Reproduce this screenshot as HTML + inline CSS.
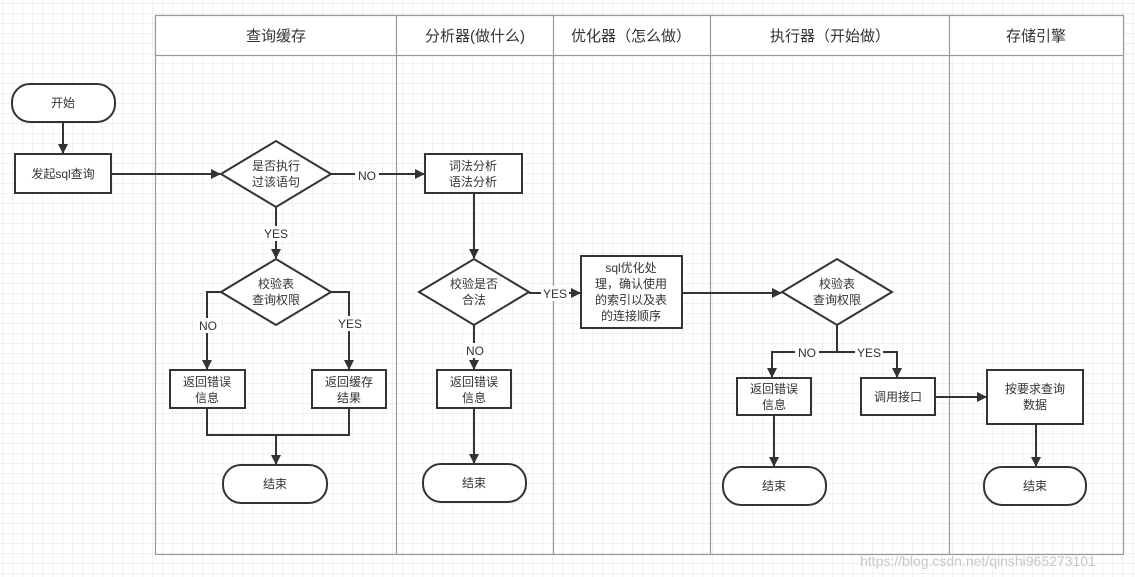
<!DOCTYPE html>
<html><head><meta charset="utf-8"><style>
html,body{margin:0;padding:0;background:#fff}
svg{display:block}
text{font-family:"Liberation Sans","Noto Sans CJK SC",sans-serif;fill:#333}
</style></head><body>
<svg width="1135" height="577" viewBox="0 0 1135 577" xmlns="http://www.w3.org/2000/svg">
<defs>
<pattern id="g" width="10" height="10" patternUnits="userSpaceOnUse" x="3" y="4">
<path d="M10 0V10M0 10H10" stroke="#e3e3e3" stroke-width="1" fill="none"/>
</pattern>
<marker id="a" markerWidth="10" markerHeight="10" refX="9" refY="5" orient="auto" markerUnits="userSpaceOnUse">
<path d="M0 0L10 5L0 10Z" fill="#333"/>
</marker>
</defs>
<rect width="1135" height="577" fill="url(#g)"/>
<!-- pool -->
<g stroke="#999" stroke-width="1.2" fill="none">
<rect x="155.5" y="15.5" width="968" height="539" fill="none"/>
<rect x="155.5" y="15.5" width="968" height="40" fill="#fff"/>
<line x1="396.5" y1="15" x2="396.5" y2="554"/>
<line x1="553.5" y1="15" x2="553.5" y2="554"/>
<line x1="710.5" y1="15" x2="710.5" y2="554"/>
<line x1="949.5" y1="15" x2="949.5" y2="554"/>
</g>
<g font-size="15" text-anchor="middle">
<text x="276" y="41">查询缓存</text>
<text x="475" y="41">分析器(做什么)</text>
<text x="631" y="41">优化器（怎么做）</text>
<text x="830" y="41">执行器（开始做）</text>
<text x="1036" y="41">存储引擎</text>
</g>
<!-- shapes -->
<g stroke="#333" stroke-width="2" fill="#fff">
<rect x="12" y="84" width="103" height="38" rx="18"/>
<rect x="15" y="154" width="96" height="39"/>
<polygon points="221,174 276,141 331,174 276,207"/>
<rect x="425" y="154" width="97" height="39"/>
<polygon points="419,292 474,259 529,292 474,325"/>
<rect x="581" y="256" width="101" height="72"/>
<polygon points="782,292 837,259 892,292 837,325"/>
<polygon points="221,292 276,259 331,292 276,325"/>
<rect x="170" y="370" width="75" height="38"/>
<rect x="312" y="370" width="74" height="38"/>
<rect x="223" y="465" width="104" height="38" rx="18"/>
<rect x="437" y="370" width="74" height="38"/>
<rect x="423" y="464" width="103" height="38" rx="18"/>
<rect x="737" y="378" width="74" height="37"/>
<rect x="861" y="378" width="74" height="37"/>
<rect x="987" y="370" width="96" height="54"/>
<rect x="723" y="467" width="103" height="38" rx="18"/>
<rect x="984" y="467" width="102" height="38" rx="18"/>
</g>
<!-- connectors -->
<g stroke="#333" stroke-width="2" fill="none">
<line x1="63" y1="122" x2="63" y2="153" marker-end="url(#a)"/>
<line x1="111" y1="174" x2="220" y2="174" marker-end="url(#a)"/>
<line x1="331" y1="174" x2="424" y2="174" marker-end="url(#a)"/>
<line x1="474" y1="193" x2="474" y2="258" marker-end="url(#a)"/>
<line x1="529" y1="293" x2="580" y2="293" marker-end="url(#a)"/>
<line x1="682" y1="293" x2="781" y2="293" marker-end="url(#a)"/>
<polyline points="837,325 837,352 772,352 772,377" marker-end="url(#a)"/>
<polyline points="837,352 897,352 897,377" marker-end="url(#a)"/>
<line x1="935" y1="397" x2="986" y2="397" marker-end="url(#a)"/>
<line x1="774" y1="415" x2="774" y2="466" marker-end="url(#a)"/>
<line x1="1036" y1="424" x2="1036" y2="466" marker-end="url(#a)"/>
<line x1="276" y1="207" x2="276" y2="258" marker-end="url(#a)"/>
<polyline points="221,292 207,292 207,369" marker-end="url(#a)"/>
<polyline points="331,292 349,292 349,369" marker-end="url(#a)"/>
<polyline points="207,408 207,435 349,435 349,408"/>
<line x1="276" y1="435" x2="276" y2="464" marker-end="url(#a)"/>
<line x1="474" y1="325" x2="474" y2="369" marker-end="url(#a)"/>
<line x1="474" y1="408" x2="474" y2="463" marker-end="url(#a)"/>
</g>
<!-- edge labels -->
<g font-size="12" text-anchor="middle">
<rect x="355" y="167" width="24" height="15" fill="#fff"/><text x="367" y="180">NO</text>
<rect x="262" y="226" width="28" height="15" fill="#fff"/><text x="276" y="238">YES</text>
<rect x="196" y="318" width="24" height="15" fill="#fff"/><text x="208" y="330">NO</text>
<rect x="336" y="316" width="28" height="15" fill="#fff"/><text x="350" y="328">YES</text>
<rect x="463" y="343" width="24" height="15" fill="#fff"/><text x="475" y="355">NO</text>
<rect x="541" y="286" width="28" height="15" fill="#fff"/><text x="555" y="298">YES</text>
<rect x="795" y="345" width="24" height="15" fill="#fff"/><text x="807" y="357">NO</text>
<rect x="855" y="345" width="28" height="15" fill="#fff"/><text x="869" y="357">YES</text>
</g>
<!-- node labels -->
<g font-size="12" text-anchor="middle">
<text x="63" y="107">开始</text>
<text x="63" y="178">发起sql查询</text>
<text x="276" y="170">是否执行</text><text x="276" y="186">过该语句</text>
<text x="473" y="170">词法分析</text><text x="473" y="186">语法分析</text>
<text x="474" y="288">校验是否</text><text x="474" y="304">合法</text>
<text x="631" y="272">sql优化处</text><text x="631" y="288">理，确认使用</text><text x="631" y="304">的索引以及表</text><text x="631" y="320">的连接顺序</text>
<text x="837" y="288">校验表</text><text x="837" y="304">查询权限</text>
<text x="276" y="288">校验表</text><text x="276" y="304">查询权限</text>
<text x="207" y="386">返回错误</text><text x="207" y="402">信息</text>
<text x="349" y="386">返回缓存</text><text x="349" y="402">结果</text>
<text x="275" y="488">结束</text>
<text x="474" y="386">返回错误</text><text x="474" y="402">信息</text>
<text x="474" y="487">结束</text>
<text x="774" y="393">返回错误</text><text x="774" y="409">信息</text>
<text x="898" y="401">调用接口</text>
<text x="1035" y="393">按要求查询</text><text x="1035" y="409">数据</text>
<text x="774" y="490">结束</text>
<text x="1035" y="490">结束</text>
</g>
<text x="860" y="566" font-size="14" style="fill:#c8c8c8">https://blog.csdn.net/qinshi965273101</text>
</svg>
</body></html>
